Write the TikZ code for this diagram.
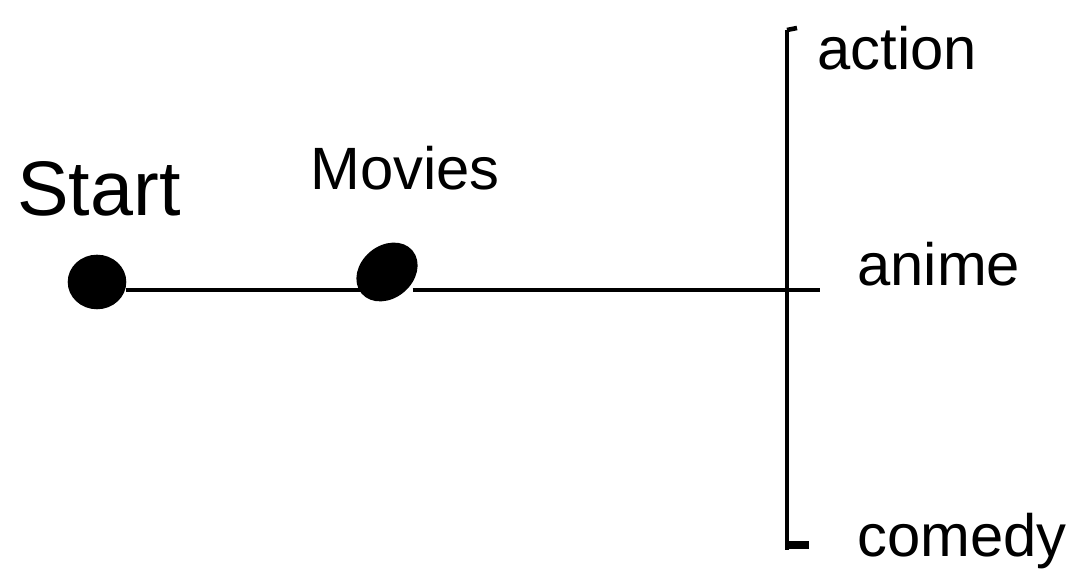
\documentclass[tikz,border=0pt]{standalone}
\usepackage{fontspec}
\setmainfont{Liberation Sans}
\usetikzlibrary{shapes.geometric}
\begin{document}
\begin{tikzpicture}[line width=1.3pt,
    dot/.style={ellipse,fill=black,draw=black,inner sep=0pt,minimum width=0.54cm,minimum height=0.5cm},
    lbl/.style={inner sep=0pt,font=\fontsize{17}{20}\selectfont}]
  \useasboundingbox (0,0) rectangle (10.74,5.81);
  \node[dot] (start) at (0.97,2.99) {};
  \node[dot,rotate=40,minimum width=0.62cm,minimum height=0.48cm] (movies) at (3.87,3.09) {};
  \coordinate (cross) at (7.87,2.91);
  \coordinate (top) at (7.87,5.51);
  \coordinate (bottom) at (7.87,0.31);
  \coordinate (tail) at (8.2,2.91);

  \node[lbl,anchor=west,font=\fontsize{22}{26}\selectfont] (startlbl) at (0.15,3.92) {Start};
  \node[lbl,anchor=west] (movieslbl) at (3.08,4.13) {Movies};
  \node[lbl,anchor=west] (action) at (8.15,5.33) {action};
  \node[lbl,anchor=west] (anime) at (8.55,3.17) {anime};
  \node[lbl,anchor=west] (comedy) at (8.55,0.4) {comedy};

  % branch lines
  \draw (start.east |- cross) -- (movies.west |- cross);
  \draw (movies.east |- cross) -- (tail);
  \draw (top) -- (bottom);
  \draw (top) -- ++(0.1,0.02);
  \draw[line width=2.5pt] (bottom) ++(0,0.05) -- ++(0.22,0);
\end{tikzpicture}
\end{document}
